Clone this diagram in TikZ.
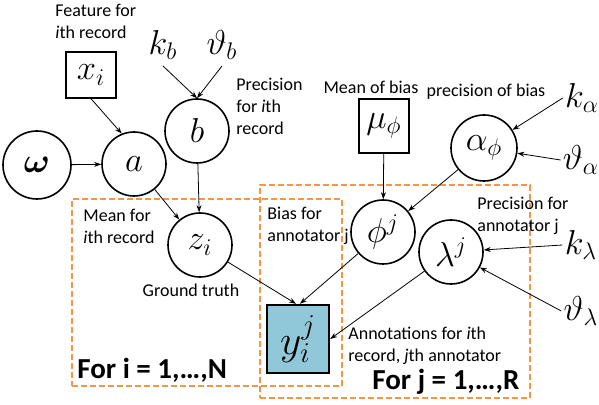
\documentclass[tikz,border=0pt]{standalone}
\usepackage{fontspec}
\setmainfont{Carlito}
\usepackage{bm}
\usetikzlibrary{arrows.meta}
\definecolor{plateorange}{RGB}{245,150,70}
\definecolor{obsblue}{RGB}{144,200,218}
\tikzset{
  x=0.5pt, y=-0.5pt,
  var/.style={circle, draw, line width=0.8pt, minimum size=32pt, inner sep=0pt, font=\fontsize{18}{20}\selectfont},
  fixed/.style={rectangle, draw, line width=0.7pt, inner sep=0pt, font=\fontsize{18}{20}\selectfont},
  obs/.style={rectangle, draw, line width=1.2pt, fill=obsblue, inner sep=0pt, minimum width=31pt, minimum height=34pt, font=\fontsize{20}{22}\selectfont},
  hyper/.style={inner sep=1pt, font=\fontsize{18}{20}\selectfont},
  lbl/.style={inner sep=0pt, font=\fontsize{9}{11}\selectfont},
  plate/.style={rectangle, draw=plateorange, line width=0.8pt, dash pattern=on 3pt off 1.5pt, inner sep=0pt},
  platelbl/.style={inner sep=0pt, anchor=west, font=\fontsize{14.5}{16}\selectfont\bfseries},
  edge/.style={-{Stealth[length=3.5pt,width=2.5pt]}, line width=0.4pt},
}
\begin{document}
\begin{tikzpicture}
\useasboundingbox (0,0) rectangle (599,405);
% plates
\node[plate, minimum width=135pt, minimum height=93.5pt] (plateN) at (207,292.5) {};
\node[plate, minimum width=135pt, minimum height=106.5pt] (plateR) at (395,291.5) {};
% nodes
\node[var, minimum size=34pt] (w) at (37,165) {$\bm{\omega}$};
\node[var] (a) at (134,164) {$a$};
\node[var] (b) at (197,131) {$b$};
\node[fixed, minimum width=25pt, minimum height=23pt] (x) at (91,75) {$x_i$};
\node[hyper] (kb) at (163,45) {$k_b$};
\node[hyper] (tb) at (222,45) {$\vartheta_b$};
\node[fixed, minimum width=25pt, minimum height=27pt] (mu) at (384,126) {$\mu_\phi$};
\node[var, minimum size=33pt] (al) at (484,148) {$\alpha_\phi$};
\node[hyper] (ka) at (582,98) {$k_\alpha$};
\node[hyper] (ta) at (581,160) {$\vartheta_\alpha$};
\node[var] (z) at (200,245) {$z_i$};
\node[var] (phi) at (383,232) {$\phi^j$};
\node[var] (lam) at (451,252) {$\lambda^j$};
\node[hyper] (kl) at (581,245) {$k_\lambda$};
\node[hyper] (tl) at (581,311) {$\vartheta_\lambda$};
\node[obs] (y) at (298,339) {$y_i^j$};
% labels
\node[lbl, align=left, anchor=west] (lx) at (55,21) {Feature for\\\textit{i}th record};
\node[lbl, align=left, anchor=west] (lb) at (236,106) {Precision\\for \textit{i}th\\record};
\node[lbl] (lmu) at (371,87) {Mean of bias};
\node[lbl] (lal) at (486,92) {precision of bias};
\node[lbl, align=left, anchor=west] (la) at (83,226) {Mean for\\\textit{i}th record};
\node[lbl] (lz) at (191,290) {Ground truth};
\node[lbl, align=left, anchor=west] (lphi) at (267,226) {Bias for\\annotator j};
\node[lbl, align=left, anchor=west] (llam) at (477,216) {Precision for\\annotator j};
\node[lbl, align=left, anchor=west] (ly) at (348,346) {Annotations for \textit{i}th\\record, \textit{j}th annotator};
\node[platelbl] (pN) at (77,370) {For i = 1,…,N};
\node[platelbl] (pR) at (372,382) {For j = 1,…,R};
% edges
\draw[edge] ([yshift=-2pt]kb.south) -- (b.north);
\draw[edge] ([yshift=-2pt]tb.south) -- (b.north);
\draw[edge] (x.south) -- (a.112);
\draw[edge] (w) -- (a);
\draw[edge] (a) -- (z);
\draw[edge] (b) -- (z);
\draw[edge] (z) -- ([xshift=-1pt]y.north);
\draw[edge] (mu) -- (phi);
\draw[edge] (ka.west) -- (al);
\draw[edge] (ta.west) -- (al);
\draw[edge] (al) -- (phi);
\draw[edge] (phi) -- ([xshift=1pt]y.north);
\draw[edge] (kl.west) -- (lam);
\draw[edge] (tl.west) -- (lam);
\draw[edge] (lam) -- (y.east);
\end{tikzpicture}
\end{document}
